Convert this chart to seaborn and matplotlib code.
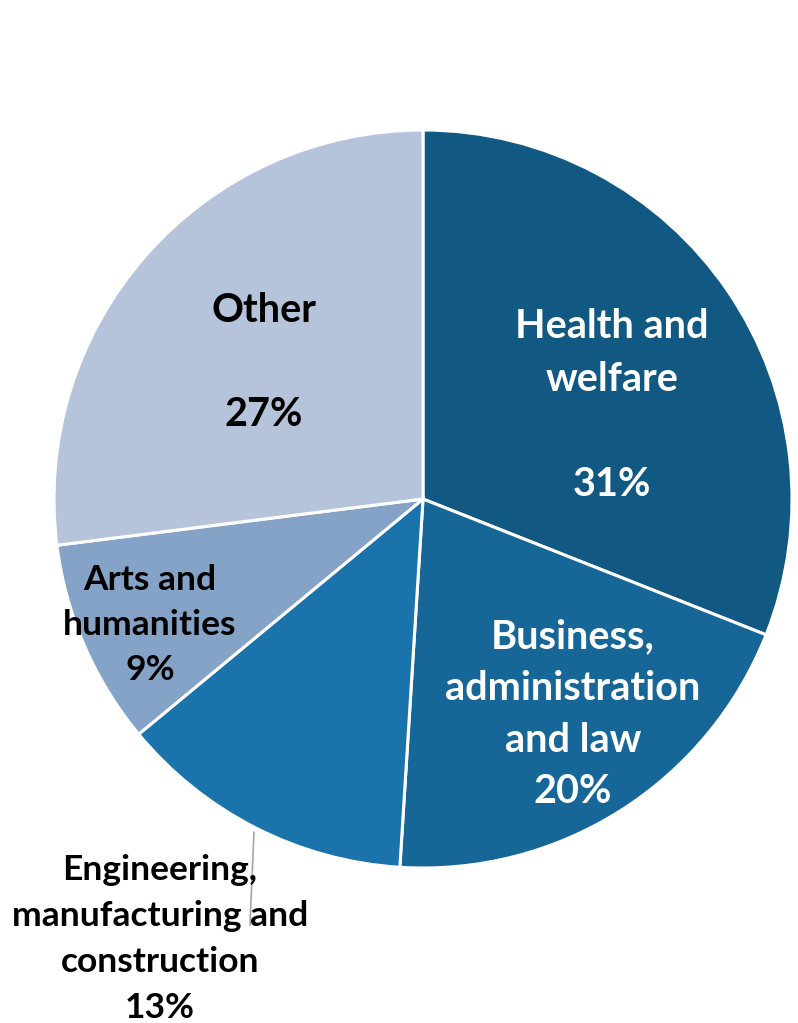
import matplotlib
matplotlib.use("Agg")
import matplotlib.pyplot as plt
import seaborn as sns

categories = ["Health and\nwelfare", "Business,\nadministration\nand law",
              "Engineering,\nmanufacturing and\nconstruction", "Arts and\nhumanities", "Other"]
shares = [31, 20, 13, 9, 27]
pct_labels = ["31%", "20%", "13%", "9%", "27%"]
colors = ["#115883", "#166797", "#1A73AB", "#85A3C6", "#B5C4DA"]

sns.set_theme(style="white")
plt.rcParams['font.family'] = ['Lato', 'DejaVu Sans']

W, H = 798, 1023
fig = plt.figure(figsize=(W / 100, H / 100), dpi=100)
ax = fig.add_axes([0, 0, 1, 1])

cx, cy, R = 423, H - 499, 369
wedges, _ = ax.pie(shares, colors=sns.color_palette(colors), startangle=90, counterclock=False,
                   center=(cx, cy), radius=R, frame=True,
                   wedgeprops=dict(edgecolor="white", linewidth=2.2))
ax.set_xlim(0, W)
ax.set_ylim(0, H)
ax.set_aspect("equal")
ax.axis("off")

# label layout (image pixel coords: x, y of first line, line spacing, fontsize, color, blank line before pct)
layout = [
    (612, 327, 52.5, 28.5, "white", True),
    (573, 637, 51.5, 28.5, "white", False),
    (160, 870, 46, 25.5, "black", False),
    (150, 580, 45, 25.5, "black", False),
    (264, 311, 51.5, 28.5, "black", True),
]
for cat, pct, (x, y, ls, fs, col, gap) in zip(categories, pct_labels, layout):
    lines = cat.split("\n") + ([""] if gap else []) + [pct]
    for i, ln in enumerate(lines):
        if ln:
            ax.text(x, H - (y + i * ls), ln, ha="center", va="center", fontsize=fs,
                    fontweight="bold", color=col)

# leader line for Engineering label
ax.plot([254, 250], [H - 832, H - 925], color="#A6A6A6", lw=1.2)

fig.savefig("out.png", dpi=100, facecolor="white")
